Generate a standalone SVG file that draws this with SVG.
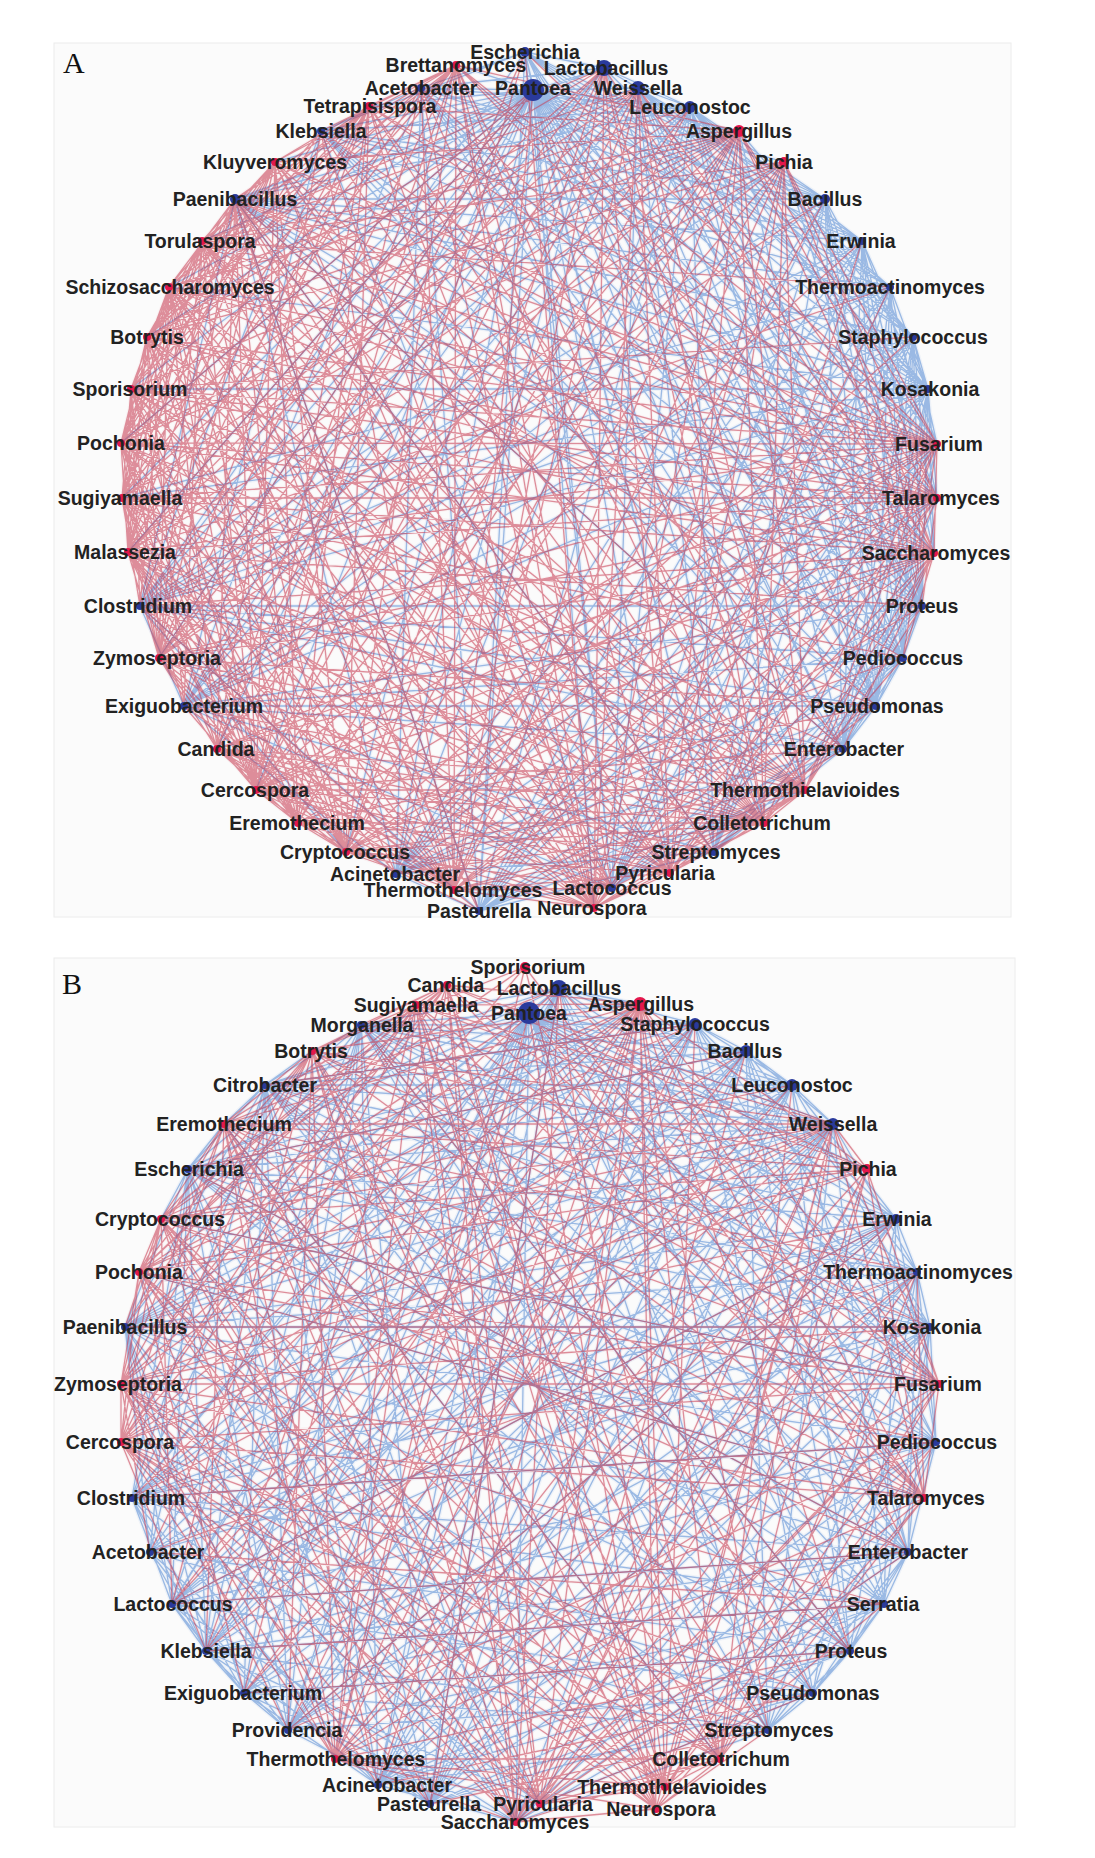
<svg xmlns="http://www.w3.org/2000/svg" xmlns:xlink="http://www.w3.org/1999/xlink" width="1095" height="1858" viewBox="0 0 1095 1858">
<style>
.bg{fill:#fbfbfb;stroke:#ececec;stroke-width:1}
.er{fill:none;stroke:#c63a50;stroke-opacity:.55;stroke-width:1.3}
.eb{fill:none;stroke:#467fd0;stroke-opacity:.5;stroke-width:1.3}
.erh{fill:none;stroke:#d86878;stroke-opacity:.06;stroke-width:3.5}
.ebh{fill:none;stroke:#6fa0e0;stroke-opacity:.09;stroke-width:4}
.lb{font-family:"Liberation Sans",Arial,sans-serif;font-weight:bold;font-size:19.5px;fill:#222222;text-anchor:middle}
.pl{font-family:"Liberation Serif","Times New Roman",serif;font-size:30px;fill:#111}
.nb{fill:#2a3a9c}
.nr{fill:#e3174c}
</style>
<defs>
<path id="ra" d="M533 90L159 658M533 90L128 552M533 90L121 443M533 90L454 890M525 52L217 749M525 52L298 823M525 52L594 908M525 52L937 444M604 68L256 790M604 68L346 852M604 68L122 498M604 68L147 337M604 68L670 873M604 68L454 890M604 68L764 823M604 68L934 553M638 88L805 790M638 88L764 823M638 88L670 873M638 88L594 908M638 88L454 890M638 88L346 852M638 88L256 790M638 88L159 658M638 88L128 552M638 88L121 443M638 88L147 337M638 88L202 241M638 88L937 498M638 88L934 553M690 107L298 823M690 107L217 749M690 107L122 498M690 107L169 287M739 131L937 498M739 131L934 553M739 131L805 790M739 131L670 873M739 131L594 908M739 131L454 890M739 131L298 823M739 131L217 749M739 131L159 658M739 131L128 552M739 131L122 498M739 131L131 389M739 131L169 287M739 131L275 162M739 131L369 106M739 131L456 65M784 162L937 444M784 162L764 823M784 162L346 852M784 162L256 790M784 162L121 443M784 162L147 337M784 162L202 241M825 199L454 890M825 199L159 658M862 241L670 873M862 241L256 790M890 287L594 908M890 287L128 552M890 287L202 241M913 337L346 852M913 337L131 389M928 389L256 790M937 444L934 553M937 444L903 658M937 444L805 790M937 444L764 823M937 444L594 908M937 444L454 890M937 444L298 823M937 444L217 749M937 444L159 658M937 444L128 552M937 444L121 443M937 444L147 337M937 444L202 241M937 444L275 162M937 498L922 606M937 498L805 790M937 498L670 873M937 498L454 890M937 498L346 852M937 498L256 790M937 498L159 658M937 498L122 498M937 498L131 389M937 498L169 287M937 498L369 106M937 498L456 65M934 553L903 658M934 553L843 749M934 553L764 823M934 553L670 873M934 553L594 908M934 553L298 823M934 553L217 749M934 553L140 606M934 553L121 443M934 553L147 337M934 553L235 199M934 553L321 131M934 553L421 88M922 606L805 790M922 606L454 890M922 606L128 552M922 606L169 287M903 658L764 823M903 658L346 852M903 658L122 498M903 658L202 241M876 706L670 873M876 706L298 823M876 706L159 658M876 706L131 389M876 706L275 162M843 749L594 908M843 749L256 790M843 749L121 443M843 749L369 106M805 790L714 852M805 790L612 888M805 790L454 890M805 790L346 852M805 790L256 790M805 790L217 749M805 790L159 658M805 790L128 552M805 790L121 443M805 790L147 337M805 790L202 241M805 790L275 162M805 790L456 65M764 823L670 873M764 823L594 908M764 823L396 874M764 823L298 823M764 823L184 706M764 823L140 606M764 823L122 498M764 823L131 389M764 823L169 287M764 823L235 199M764 823L321 131M764 823L421 88M714 852L298 823M714 852L217 749M714 852L121 443M714 852L202 241M670 873L594 908M670 873L454 890M670 873L346 852M670 873L256 790M670 873L159 658M670 873L122 498M670 873L147 337M670 873L235 199M670 873L369 106M612 888L454 890M612 888L346 852M612 888L256 790M612 888L217 749M612 888L159 658M612 888L128 552M612 888L131 389M612 888L169 287M612 888L275 162M612 888L456 65M594 908L454 890M594 908L298 823M594 908L217 749M594 908L140 606M594 908L122 498M594 908L147 337M594 908L202 241M594 908L321 131M594 908L421 88M479 911L298 823M479 911L159 658M479 911L169 287M454 890L346 852M454 890L256 790M454 890L184 706M454 890L140 606M454 890L122 498M454 890L131 389M454 890L169 287M454 890L235 199M454 890L321 131M454 890L421 88M454 890L456 65M454 890L202 241M396 874L217 749M396 874L128 552M396 874L147 337M346 852L256 790M346 852L159 658M346 852L128 552M346 852L121 443M346 852L147 337M346 852L202 241M346 852L275 162M346 852L369 106M346 852L456 65M298 823L217 749M298 823L140 606M298 823L122 498M298 823L131 389M298 823L169 287M298 823L235 199M298 823L369 106M256 790L184 706M256 790L159 658M256 790L128 552M256 790L122 498M256 790L121 443M256 790L131 389M256 790L147 337M256 790L169 287M256 790L202 241M256 790L275 162M256 790L421 88M217 749L159 658M217 749L128 552M217 749L121 443M217 749L169 287M217 749L235 199M217 749L321 131M217 749L456 65M184 706L122 498M184 706L147 337M184 706L202 241M159 658L128 552M159 658L122 498M159 658L121 443M159 658L131 389M159 658L147 337M159 658L169 287M159 658L202 241M159 658L275 162M159 658L369 106M159 658L456 65M140 606L122 498M140 606L131 389M140 606L169 287M140 606L369 106M128 552L121 443M128 552L131 389M128 552L147 337M128 552L169 287M128 552L202 241M128 552L275 162M128 552L421 88M122 498L131 389M122 498L147 337M122 498L169 287M122 498L235 199M122 498L369 106M122 498L456 65M121 443L147 337M121 443L169 287M121 443L202 241M121 443L235 199M121 443L275 162M121 443L321 131M121 443L456 65M131 389L169 287M131 389L202 241M131 389L275 162M131 389L369 106M131 389L456 65M147 337L202 241M147 337L235 199M147 337L275 162M147 337L321 131M147 337L369 106M147 337L421 88M147 337L456 65M169 287L235 199M169 287L275 162M169 287L369 106M169 287L456 65M202 241L275 162M202 241L369 106M202 241L421 88M235 199L937 444M235 199L937 498M235 199L843 749M235 199L714 852M235 199L612 888M235 199L479 911M235 199L256 790M235 199L159 658M235 199L128 552M235 199L369 106M235 199L456 65M275 162L369 106M275 162L456 65M321 131L456 65M369 106L456 65M604 68L159 658M604 68L128 552M604 68L202 241M604 68L594 908M604 68L805 790M456 65L937 444M456 65L934 553M456 65L805 790M456 65L764 823M456 65L670 873M456 65L594 908M456 65L346 852M456 65L256 790M369 106L937 444M369 106L805 790M369 106L670 873M369 106L594 908M369 106L256 790M369 106L128 552M275 162L937 498M275 162L805 790M275 162L764 823M275 162L594 908M275 162L298 823M275 162L122 498M202 241L937 444M202 241L934 553M202 241L764 823M202 241L670 873M202 241L454 890M202 241L346 852M202 241L122 498M169 287L937 444M169 287L937 498M169 287L805 790M169 287L670 873M169 287L594 908M169 287L346 852M147 337L937 444M147 337L937 498M147 337L934 553M147 337L764 823M147 337L670 873M147 337L346 852M131 389L937 444M131 389L934 553M131 389L805 790M131 389L764 823M131 389L594 908M131 389L454 890M131 389L346 852M121 443L937 444M121 443L937 498M121 443L934 553M121 443L805 790M121 443L670 873M121 443L454 890M121 443L298 823M122 498L937 444M122 498L934 553M122 498L805 790M122 498L670 873M122 498L594 908M122 498L454 890M122 498L346 852M128 552L937 444M128 552L937 498M128 552L764 823M128 552L670 873M128 552L594 908M128 552L454 890M128 552L298 823M159 658L937 444M159 658L937 498M159 658L934 553M159 658L805 790M159 658L764 823M159 658L454 890M159 658L298 823M217 749L937 444M217 749L937 498M217 749L764 823M217 749L670 873M217 749L454 890M217 749L346 852M217 749L298 823M256 790L937 444M256 790L937 498M256 790L934 553M256 790L764 823M256 790L670 873M256 790L594 908M256 790L454 890M256 790L346 852M256 790L298 823M346 852L937 444M346 852L934 553M346 852L764 823M346 852L670 873M346 852L594 908M346 852L298 823M454 890L937 444M454 890L937 498M454 890L934 553M454 890L805 790M454 890L764 823M454 890L670 873M454 890L594 908M594 908L937 444M594 908L937 498M594 908L934 553M594 908L805 790M594 908L764 823M670 873L937 444M670 873L937 498M670 873L934 553M670 873L805 790M670 873L764 823M805 790L937 444M805 790L937 498M805 790L934 553M805 790L764 823M784 162L937 498M784 162L934 553M784 162L805 790M784 162L670 873M784 162L594 908M784 162L454 890M784 162L159 658M784 162L128 552M739 131L937 444M739 131L764 823M739 131L346 852M739 131L256 790M739 131L121 443M739 131L147 337M739 131L202 241"/>
<path id="ba" d="M533 90L825 199M533 90L862 241M533 90L890 287M533 90L913 337M533 90L928 389M533 90L937 444M533 90L937 498M533 90L934 553M533 90L922 606M533 90L903 658M533 90L876 706M533 90L843 749M533 90L714 852M533 90L612 888M533 90L479 911M533 90L396 874M533 90L184 706M533 90L140 606M533 90L122 498M533 90L131 389M533 90L169 287M533 90L235 199M533 90L321 131M533 90L421 88M533 90L525 52M533 90L638 88M533 90L690 107M533 90L805 790M533 90L256 790M533 90L346 852M604 68L928 389M604 68L922 606M604 68L876 706M604 68L140 606M604 68L235 199M604 68L421 88M604 68L184 706M604 68L396 874M525 52L928 389M525 52L903 658M525 52L913 337M525 52L479 911M525 52L321 131M638 88L890 287M638 88L928 389M638 88L903 658M690 107L890 287M690 107L913 337M690 107L928 389M690 107L937 444M690 107L922 606M690 107L876 706M690 107L184 706M690 107L140 606M690 107L235 199M739 131L913 337M739 131L876 706M784 162L922 606M784 162L140 606M825 199L928 389M825 199L937 498M825 199L922 606M825 199L903 658M825 199L843 749M825 199L612 888M825 199L479 911M825 199L184 706M825 199L321 131M825 199L421 88M862 241L928 389M862 241L937 444M862 241L934 553M862 241L876 706M862 241L714 852M862 241L396 874M862 241L140 606M862 241L235 199M890 287L937 498M890 287L922 606M890 287L843 749M890 287L479 911M890 287L122 498M890 287L321 131M913 337L937 444M913 337L934 553M913 337L903 658M913 337L876 706M913 337L184 706M913 337L235 199M928 389L937 498M928 389L934 553M928 389L922 606M928 389L903 658M928 389L876 706M928 389L843 749M928 389L714 852M928 389L612 888M928 389L396 874M928 389L140 606M928 389L122 498M928 389L131 389M928 389L169 287M928 389L235 199M937 444L876 706M937 444L479 911M937 498L843 749M937 498L396 874M922 606L876 706M922 606L714 852M922 606L612 888M922 606L184 706M922 606L235 199M903 658L843 749M903 658L479 911M903 658L396 874M903 658L140 606M903 658L321 131M876 706L714 852M876 706L612 888M876 706L184 706M876 706L421 88M843 749L612 888M843 749L396 874M843 749L140 606M843 749L235 199M805 790L479 911M714 852L479 911M714 852L396 874M714 852L184 706M714 852L235 199M612 888L184 706M612 888L321 131M479 911L396 874M479 911L140 606M479 911L235 199M479 911L421 88M396 874L184 706M396 874L235 199M396 874L421 88M346 852L140 606M184 706L140 606M184 706L321 131M184 706L421 88M140 606L235 199M140 606L321 131M321 131L421 88M525 52L604 68M604 68L638 88M638 88L690 107M690 107L825 199M604 68L825 199M525 52L421 88M604 68L690 107M533 90L604 68M533 90L739 131M533 90L784 162M533 90L217 749M533 90L159 658M533 90L128 552M533 90L121 443M533 90L147 337M533 90L202 241M533 90L275 162M533 90L369 106M533 90L456 65M533 90L594 908M533 90L670 873M533 90L764 823M928 389L825 199M928 389L862 241M928 389L890 287M928 389L913 337M928 389L479 911M928 389L184 706M928 389L321 131M928 389L421 88M913 337L922 606M913 337L843 749M913 337L714 852M913 337L612 888M913 337L479 911M913 337L396 874M913 337L140 606M890 287L903 658M890 287L876 706M890 287L714 852M890 287L612 888M890 287L396 874M890 287L184 706M890 287L140 606M890 287L235 199M862 241L922 606M862 241L903 658M862 241L843 749M862 241L612 888M862 241L479 911M862 241L184 706M862 241L321 131M862 241L421 88M825 199L876 706M825 199L714 852M825 199L396 874M825 199L140 606M825 199L235 199M922 606L903 658M922 606L843 749M922 606L479 911M922 606L396 874M922 606L140 606M922 606L321 131M922 606L421 88M903 658L876 706M903 658L714 852M903 658L612 888M903 658L184 706M903 658L235 199M903 658L421 88M876 706L843 749M876 706L479 911M876 706L396 874M876 706L140 606M876 706L235 199M876 706L321 131M843 749L714 852M843 749L479 911M843 749L184 706M843 749L321 131M843 749L421 88M690 107L825 199M690 107L862 241M690 107L903 658M690 107L843 749M690 107L714 852M690 107L612 888M690 107L479 911M690 107L396 874M690 107L321 131M690 107L421 88M638 88L825 199M638 88L862 241M638 88L913 337M638 88L922 606M638 88L876 706M638 88L714 852M638 88L612 888M638 88L184 706M638 88L235 199M525 52L825 199M525 52L862 241M525 52L890 287M525 52L922 606M525 52L876 706M525 52L843 749M525 52L714 852M525 52L612 888M525 52L140 606"/>
<path id="rb" d="M640 1004L939 1384M640 1004L924 1498M640 1004L720 1759M640 1004L665 1787M640 1004L656 1809M640 1004L540 1804M640 1004L516 1822M640 1004L335 1759M640 1004L206 1651M640 1004L121 1442M640 1004L121 1384M640 1004L139 1272M640 1004L161 1219M640 1004L224 1124M640 1004L312 1051M640 1004L416 1005M640 1004L447 985M640 1004L850 1651M640 1004L288 1730M525 967L924 1498M525 967L720 1759M525 967L335 1759M525 967L121 1442M525 967L161 1219M525 967L312 1051M559 988L939 1384M559 988L665 1787M559 988L516 1822M559 988L121 1384M559 988L224 1124M529 1013L656 1809M529 1013L335 1759M529 1013L139 1272M529 1013L924 1498M695 1024L665 1787M695 1024L335 1759M695 1024L139 1272M746 1051L540 1804M746 1051L121 1442M746 1051L244 1693M792 1085L720 1759M792 1085L161 1219M833 1124L939 1384M833 1124L924 1498M833 1124L720 1759M833 1124L656 1809M833 1124L516 1822M833 1124L335 1759M833 1124L206 1651M833 1124L132 1498M833 1124L121 1384M833 1124L139 1272M833 1124L224 1124M833 1124L416 1005M867 1169L939 1384M867 1169L924 1498M867 1169L665 1787M867 1169L540 1804M867 1169L121 1442M867 1169L161 1219M867 1169L312 1051M867 1169L447 985M896 1219L516 1822M896 1219L121 1384M896 1219L172 1604M917 1272L924 1498M917 1272L720 1759M917 1272L335 1759M917 1272L224 1124M917 1272L540 1804M930 1327L656 1809M930 1327L121 1384M930 1327L312 1051M939 1384L924 1498M939 1384L720 1759M939 1384L665 1787M939 1384L540 1804M939 1384L335 1759M939 1384L121 1442M939 1384L121 1384M939 1384L139 1272M939 1384L161 1219M939 1384L224 1124M939 1384L312 1051M939 1384L416 1005M939 1384L447 985M939 1384L516 1822M936 1442L665 1787M936 1442L139 1272M936 1442L288 1730M924 1498L720 1759M924 1498L656 1809M924 1498L540 1804M924 1498L335 1759M924 1498L121 1442M924 1498L121 1384M924 1498L161 1219M924 1498L224 1124M924 1498L312 1051M924 1498L416 1005M908 1552L516 1822M908 1552L161 1219M884 1604L665 1787M884 1604L121 1384M884 1604L150 1552M850 1651L335 1759M850 1651L224 1124M850 1651L361 1025M813 1693L540 1804M813 1693L121 1442M813 1693L416 1005M768 1730L656 1809M768 1730L121 1384M768 1730L312 1051M720 1759L656 1809M720 1759L540 1804M720 1759L516 1822M720 1759L335 1759M720 1759L121 1442M720 1759L121 1384M720 1759L139 1272M720 1759L161 1219M720 1759L224 1124M720 1759L312 1051M720 1759L416 1005M720 1759L447 985M665 1787L540 1804M665 1787L335 1759M665 1787L121 1442M665 1787L139 1272M665 1787L224 1124M665 1787L312 1051M665 1787L447 985M656 1809L516 1822M656 1809L335 1759M656 1809L121 1384M656 1809L161 1219M656 1809L416 1005M540 1804L335 1759M540 1804L121 1442M540 1804L139 1272M540 1804L224 1124M540 1804L312 1051M540 1804L447 985M516 1822L335 1759M516 1822L121 1442M516 1822L121 1384M516 1822L139 1272M516 1822L161 1219M516 1822L312 1051M516 1822L416 1005M430 1804L121 1442M430 1804L161 1219M378 1785L121 1384M378 1785L224 1124M335 1759L121 1442M335 1759L121 1384M335 1759L139 1272M335 1759L161 1219M335 1759L224 1124M335 1759L312 1051M335 1759L416 1005M335 1759L447 985M335 1759L525 967M288 1730L121 1384M288 1730L312 1051M244 1693L139 1272M244 1693L416 1005M206 1651L121 1442M206 1651L224 1124M172 1604L161 1219M172 1604L312 1051M150 1552L121 1384M150 1552L416 1005M121 1442L121 1384M121 1442L139 1272M121 1442L161 1219M121 1442L224 1124M121 1442L312 1051M121 1442L416 1005M121 1442L447 985M121 1384L139 1272M121 1384L161 1219M121 1384L224 1124M121 1384L312 1051M121 1384L416 1005M121 1384L447 985M125 1327L161 1219M125 1327L312 1051M139 1272L161 1219M139 1272L224 1124M139 1272L312 1051M139 1272L416 1005M139 1272L447 985M161 1219L224 1124M161 1219L312 1051M161 1219L416 1005M161 1219L447 985M224 1124L312 1051M224 1124L416 1005M224 1124L447 985M312 1051L416 1005M312 1051L447 985M361 1025L447 985M188 1169L908 1552M447 985L939 1384M447 985L924 1498M447 985L720 1759M447 985L665 1787M447 985L656 1809M447 985L540 1804M447 985L516 1822M447 985L206 1651M416 1005L867 1169M416 1005L665 1787M416 1005L540 1804M416 1005L516 1822M312 1051L939 1384M312 1051L924 1498M312 1051L656 1809M312 1051L516 1822M224 1124L867 1169M224 1124L939 1384M224 1124L924 1498M224 1124L656 1809M224 1124L540 1804M224 1124L516 1822M161 1219L924 1498M161 1219L665 1787M161 1219L540 1804M139 1272L867 1169M139 1272L939 1384M139 1272L924 1498M139 1272L656 1809M139 1272L516 1822M121 1384L867 1169M121 1384L665 1787M121 1384L540 1804M121 1442L656 1809M640 1004L867 1169M640 1004L132 1498M640 1004L172 1604M640 1004L378 1785M640 1004L430 1804M640 1004L768 1730M640 1004L908 1552M833 1124L867 1169M833 1124L665 1787M833 1124L540 1804M833 1124L121 1442M833 1124L161 1219M833 1124L312 1051M833 1124L447 985M720 1759L867 1169M720 1759L665 1787M335 1759L867 1169M335 1759L939 1384M335 1759L924 1498M335 1759L665 1787M335 1759L540 1804M540 1804L939 1384M540 1804L924 1498M540 1804L867 1169M516 1822L867 1169M516 1822L640 1004M559 988L430 1804M695 1024L172 1604M792 1085L244 1693M896 1219L288 1730M917 1272L150 1552M930 1327L125 1327M936 1442L132 1498M908 1552L172 1604M884 1604L206 1651M850 1651L244 1693M813 1693L378 1785M768 1730L430 1804M746 1051L188 1169M695 1024L265 1085"/>
<path id="bb" d="M529 1013L559 988M529 1013L695 1024M529 1013L746 1051M529 1013L792 1085M529 1013L833 1124M529 1013L896 1219M529 1013L917 1272M529 1013L930 1327M529 1013L936 1442M529 1013L908 1552M529 1013L884 1604M529 1013L850 1651M529 1013L813 1693M529 1013L768 1730M529 1013L430 1804M529 1013L378 1785M529 1013L288 1730M529 1013L244 1693M529 1013L206 1651M529 1013L172 1604M529 1013L150 1552M529 1013L132 1498M529 1013L125 1327M529 1013L188 1169M529 1013L265 1085M529 1013L361 1025M529 1013L640 1004M529 1013L867 1169M529 1013L939 1384M529 1013L516 1822M559 988L695 1024M559 988L792 1085M559 988L896 1219M559 988L930 1327M559 988L908 1552M559 988L850 1651M559 988L768 1730M559 988L378 1785M559 988L244 1693M559 988L172 1604M559 988L132 1498M559 988L188 1169M559 988L265 1085M559 988L361 1025M695 1024L792 1085M695 1024L896 1219M695 1024L930 1327M695 1024L936 1442M695 1024L884 1604M695 1024L813 1693M695 1024L430 1804M695 1024L288 1730M695 1024L206 1651M695 1024L150 1552M695 1024L125 1327M695 1024L188 1169M695 1024L265 1085M746 1051L833 1124M746 1051L917 1272M746 1051L936 1442M746 1051L908 1552M746 1051L850 1651M746 1051L768 1730M746 1051L378 1785M746 1051L206 1651M746 1051L132 1498M746 1051L125 1327M746 1051L361 1025M792 1085L896 1219M792 1085L930 1327M792 1085L908 1552M792 1085L850 1651M792 1085L430 1804M792 1085L288 1730M792 1085L172 1604M792 1085L125 1327M792 1085L188 1169M833 1124L917 1272M833 1124L884 1604M833 1124L768 1730M833 1124L378 1785M833 1124L244 1693M833 1124L150 1552M896 1219L936 1442M896 1219L884 1604M896 1219L813 1693M896 1219L378 1785M896 1219L244 1693M896 1219L150 1552M896 1219L125 1327M896 1219L188 1169M896 1219L265 1085M917 1272L936 1442M917 1272L908 1552M917 1272L850 1651M917 1272L768 1730M917 1272L430 1804M917 1272L288 1730M917 1272L172 1604M917 1272L132 1498M917 1272L188 1169M917 1272L361 1025M930 1327L936 1442M930 1327L908 1552M930 1327L884 1604M930 1327L813 1693M930 1327L378 1785M930 1327L244 1693M930 1327L150 1552M930 1327L265 1085M930 1327L361 1025M936 1442L908 1552M936 1442L850 1651M936 1442L768 1730M936 1442L430 1804M936 1442L206 1651M936 1442L132 1498M936 1442L125 1327M936 1442L188 1169M908 1552L850 1651M908 1552L813 1693M908 1552L768 1730M908 1552L378 1785M908 1552L244 1693M908 1552L172 1604M908 1552L125 1327M908 1552L265 1085M908 1552L361 1025M884 1604L813 1693M884 1604L430 1804M884 1604L288 1730M884 1604L206 1651M884 1604L132 1498M884 1604L188 1169M850 1651L768 1730M850 1651L378 1785M850 1651L244 1693M850 1651L150 1552M850 1651L125 1327M850 1651L265 1085M813 1693L430 1804M813 1693L288 1730M813 1693L172 1604M813 1693L132 1498M813 1693L188 1169M813 1693L361 1025M768 1730L378 1785M768 1730L244 1693M768 1730L206 1651M768 1730L150 1552M768 1730L125 1327M768 1730L265 1085M516 1822L936 1442M516 1822L884 1604M516 1822L768 1730M516 1822L378 1785M516 1822L244 1693M516 1822L172 1604M516 1822L125 1327M516 1822L265 1085M516 1822L930 1327M516 1822L792 1085M540 1804L908 1552M540 1804L813 1693M540 1804L206 1651M540 1804L132 1498M540 1804L188 1169M430 1804L288 1730M430 1804L206 1651M430 1804L150 1552M430 1804L125 1327M430 1804L265 1085M430 1804L361 1025M378 1785L244 1693M378 1785L172 1604M378 1785L132 1498M378 1785L188 1169M378 1785L361 1025M288 1730L206 1651M288 1730L150 1552M288 1730L125 1327M288 1730L188 1169M288 1730L265 1085M244 1693L172 1604M244 1693L132 1498M244 1693L125 1327M244 1693L265 1085M244 1693L361 1025M206 1651L150 1552M206 1651L132 1498M206 1651L125 1327M206 1651L188 1169M206 1651L265 1085M206 1651L361 1025M206 1651L559 988M206 1651L695 1024M206 1651L792 1085M206 1651L896 1219M206 1651L908 1552M172 1604L132 1498M172 1604L125 1327M172 1604L188 1169M172 1604L361 1025M150 1552L125 1327M150 1552L188 1169M150 1552L265 1085M132 1498L188 1169M132 1498L265 1085M132 1498L361 1025M125 1327L188 1169M125 1327L265 1085M125 1327L361 1025M188 1169L265 1085M188 1169L361 1025M188 1169L746 1051M188 1169L833 1124M265 1085L361 1025M265 1085L833 1124M361 1025L896 1219M361 1025L936 1442M939 1384L161 1219M720 1759L224 1124M640 1004L125 1327M924 1498L139 1272M188 1169L695 1024M188 1169L792 1085M188 1169L896 1219M188 1169L930 1327M188 1169L936 1442M188 1169L908 1552M188 1169L850 1651M188 1169L813 1693M188 1169L430 1804M188 1169L378 1785M188 1169L288 1730M188 1169L206 1651M265 1085L559 988M265 1085L746 1051M265 1085L792 1085M265 1085L896 1219M265 1085L917 1272M265 1085L936 1442M265 1085L908 1552M265 1085L884 1604M265 1085L813 1693M265 1085L768 1730M265 1085L430 1804M265 1085L378 1785M361 1025L695 1024M361 1025L792 1085M361 1025L833 1124M361 1025L917 1272M361 1025L930 1327M361 1025L908 1552M361 1025L884 1604M361 1025L850 1651M361 1025L768 1730M361 1025L430 1804M361 1025L378 1785M361 1025L288 1730M125 1327L559 988M125 1327L695 1024M125 1327L746 1051M125 1327L792 1085M125 1327L833 1124M125 1327L917 1272M125 1327L930 1327M132 1498L559 988M132 1498L695 1024M132 1498L792 1085M132 1498L896 1219M132 1498L930 1327M132 1498L908 1552M172 1604L559 988M172 1604L746 1051M172 1604L833 1124M172 1604L896 1219M172 1604L917 1272M172 1604L936 1442M288 1730L559 988M288 1730L695 1024M288 1730L746 1051M288 1730L833 1124M288 1730L896 1219M288 1730L930 1327M378 1785L695 1024M378 1785L792 1085M378 1785L917 1272M378 1785L936 1442M378 1785L884 1604M430 1804L559 988M430 1804L746 1051M430 1804L833 1124M430 1804L896 1219M430 1804L930 1327M430 1804L884 1604M430 1804L850 1651M188 1169L224 1124M224 1124L265 1085M265 1085L312 1051M161 1219L188 1169M559 988L640 1004M695 1024L746 1051M746 1051L792 1085M792 1085L833 1124M896 1219L917 1272M917 1272L930 1327M908 1552L884 1604M884 1604L850 1651M850 1651L813 1693M813 1693L768 1730M172 1604L206 1651M206 1651L244 1693M244 1693L288 1730"/>
</defs>
<rect width="1095" height="1858" fill="#ffffff"/>
<rect class="bg" x="54" y="43" width="957" height="874"/>
<rect class="bg" x="54" y="958" width="961" height="869"/>
<text class="pl" x="63" y="73">A</text>
<text class="pl" x="62" y="994">B</text>
<g id="edges-a">
<use xlink:href="#ba" href="#ba" class="ebh"/>
<use xlink:href="#ra" href="#ra" class="erh"/>
<use xlink:href="#ba" href="#ba" class="eb"/>
<use xlink:href="#ra" href="#ra" class="er"/>
</g>
<g id="edges-b">
<use xlink:href="#bb" href="#bb" class="ebh"/>
<use xlink:href="#rb" href="#rb" class="erh"/>
<use xlink:href="#bb" href="#bb" class="eb"/>
<use xlink:href="#rb" href="#rb" class="er"/>
</g>
<g id="nodes-a">
<g id="a-escherichia"><circle class="nb" cx="525" cy="52" r="5"/><text class="lb" x="525" y="59">Escherichia</text></g>
<g id="a-lactobacillus"><circle class="nb" cx="604" cy="68" r="8"/><text class="lb" x="606" y="75">Lactobacillus</text></g>
<g id="a-weissella"><circle class="nb" cx="638" cy="88" r="7"/><text class="lb" x="638" y="95">Weissella</text></g>
<g id="a-leuconostoc"><circle class="nb" cx="690" cy="107" r="6"/><text class="lb" x="690" y="114">Leuconostoc</text></g>
<g id="a-aspergillus"><circle class="nr" cx="739" cy="131" r="6"/><text class="lb" x="739" y="138">Aspergillus</text></g>
<g id="a-pichia"><circle class="nr" cx="784" cy="162" r="5"/><text class="lb" x="784" y="169">Pichia</text></g>
<g id="a-bacillus"><circle class="nb" cx="825" cy="199" r="5"/><text class="lb" x="825" y="206">Bacillus</text></g>
<g id="a-erwinia"><circle class="nb" cx="862" cy="241" r="4"/><text class="lb" x="861" y="248">Erwinia</text></g>
<g id="a-thermoactinomyces"><circle class="nb" cx="890" cy="287" r="4"/><text class="lb" x="890" y="294">Thermoactinomyces</text></g>
<g id="a-staphylococcus"><circle class="nb" cx="913" cy="337" r="4"/><text class="lb" x="913" y="344">Staphylococcus</text></g>
<g id="a-kosakonia"><circle class="nb" cx="928" cy="389" r="4"/><text class="lb" x="930" y="396">Kosakonia</text></g>
<g id="a-fusarium"><circle class="nr" cx="937" cy="444" r="4"/><text class="lb" x="939" y="451">Fusarium</text></g>
<g id="a-talaromyces"><circle class="nr" cx="937" cy="498" r="4"/><text class="lb" x="941" y="505">Talaromyces</text></g>
<g id="a-saccharomyces"><circle class="nr" cx="934" cy="553" r="4"/><text class="lb" x="936" y="560">Saccharomyces</text></g>
<g id="a-proteus"><circle class="nb" cx="922" cy="606" r="4"/><text class="lb" x="922" y="613">Proteus</text></g>
<g id="a-pediococcus"><circle class="nb" cx="903" cy="658" r="4"/><text class="lb" x="903" y="665">Pediococcus</text></g>
<g id="a-pseudomonas"><circle class="nb" cx="876" cy="706" r="4"/><text class="lb" x="877" y="713">Pseudomonas</text></g>
<g id="a-enterobacter"><circle class="nb" cx="843" cy="749" r="4"/><text class="lb" x="844" y="756">Enterobacter</text></g>
<g id="a-thermothielavioides"><circle class="nr" cx="805" cy="790" r="4"/><text class="lb" x="805" y="797">Thermothielavioides</text></g>
<g id="a-colletotrichum"><circle class="nr" cx="764" cy="823" r="4"/><text class="lb" x="762" y="830">Colletotrichum</text></g>
<g id="a-streptomyces"><circle class="nb" cx="714" cy="852" r="4"/><text class="lb" x="716" y="859">Streptomyces</text></g>
<g id="a-pyricularia"><circle class="nr" cx="670" cy="873" r="4"/><text class="lb" x="665" y="880">Pyricularia</text></g>
<g id="a-lactococcus"><circle class="nb" cx="612" cy="888" r="4"/><text class="lb" x="612" y="895">Lactococcus</text></g>
<g id="a-neurospora"><circle class="nr" cx="594" cy="908" r="4"/><text class="lb" x="592" y="915">Neurospora</text></g>
<g id="a-pasteurella"><circle class="nb" cx="479" cy="911" r="4"/><text class="lb" x="479" y="918">Pasteurella</text></g>
<g id="a-thermothelomyces"><circle class="nr" cx="454" cy="890" r="4"/><text class="lb" x="453" y="897">Thermothelomyces</text></g>
<g id="a-acinetobacter"><circle class="nb" cx="396" cy="874" r="4"/><text class="lb" x="395" y="881">Acinetobacter</text></g>
<g id="a-cryptococcus"><circle class="nr" cx="346" cy="852" r="4"/><text class="lb" x="345" y="859">Cryptococcus</text></g>
<g id="a-eremothecium"><circle class="nr" cx="298" cy="823" r="4"/><text class="lb" x="297" y="830">Eremothecium</text></g>
<g id="a-cercospora"><circle class="nr" cx="256" cy="790" r="4"/><text class="lb" x="255" y="797">Cercospora</text></g>
<g id="a-candida"><circle class="nr" cx="217" cy="749" r="4"/><text class="lb" x="216" y="756">Candida</text></g>
<g id="a-exiguobacterium"><circle class="nb" cx="184" cy="706" r="4"/><text class="lb" x="184" y="713">Exiguobacterium</text></g>
<g id="a-zymoseptoria"><circle class="nr" cx="159" cy="658" r="4"/><text class="lb" x="157" y="665">Zymoseptoria</text></g>
<g id="a-clostridium"><circle class="nb" cx="140" cy="606" r="4"/><text class="lb" x="138" y="613">Clostridium</text></g>
<g id="a-malassezia"><circle class="nr" cx="128" cy="552" r="4"/><text class="lb" x="125" y="559">Malassezia</text></g>
<g id="a-sugiyamaella"><circle class="nr" cx="122" cy="498" r="4"/><text class="lb" x="120" y="505">Sugiyamaella</text></g>
<g id="a-pochonia"><circle class="nr" cx="121" cy="443" r="4"/><text class="lb" x="121" y="450">Pochonia</text></g>
<g id="a-sporisorium"><circle class="nr" cx="131" cy="389" r="4"/><text class="lb" x="130" y="396">Sporisorium</text></g>
<g id="a-botrytis"><circle class="nr" cx="147" cy="337" r="4"/><text class="lb" x="147" y="344">Botrytis</text></g>
<g id="a-schizosaccharomyces"><circle class="nr" cx="169" cy="287" r="4"/><text class="lb" x="170" y="294">Schizosaccharomyces</text></g>
<g id="a-torulaspora"><circle class="nr" cx="202" cy="241" r="4"/><text class="lb" x="200" y="248">Torulaspora</text></g>
<g id="a-paenibacillus"><circle class="nb" cx="235" cy="199" r="5"/><text class="lb" x="235" y="206">Paenibacillus</text></g>
<g id="a-kluyveromyces"><circle class="nr" cx="275" cy="162" r="4"/><text class="lb" x="275" y="169">Kluyveromyces</text></g>
<g id="a-klebsiella"><circle class="nb" cx="321" cy="131" r="4"/><text class="lb" x="321" y="138">Klebsiella</text></g>
<g id="a-tetrapisispora"><circle class="nr" cx="369" cy="106" r="4"/><text class="lb" x="370" y="113">Tetrapisispora</text></g>
<g id="a-acetobacter"><circle class="nb" cx="421" cy="88" r="4"/><text class="lb" x="421" y="95">Acetobacter</text></g>
<g id="a-brettanomyces"><circle class="nr" cx="456" cy="65" r="4"/><text class="lb" x="456" y="72">Brettanomyces</text></g>
<g id="a-pantoea"><circle class="nb" cx="533" cy="90" r="11"/><text class="lb" x="533" y="95">Pantoea</text></g>
</g>
<g id="nodes-b">
<g id="b-sporisorium"><circle class="nr" cx="525" cy="967" r="5"/><text class="lb" x="528" y="974">Sporisorium</text></g>
<g id="b-lactobacillus"><circle class="nb" cx="559" cy="988" r="8"/><text class="lb" x="559" y="995">Lactobacillus</text></g>
<g id="b-aspergillus"><circle class="nr" cx="640" cy="1004" r="7"/><text class="lb" x="641" y="1011">Aspergillus</text></g>
<g id="b-staphylococcus"><circle class="nb" cx="695" cy="1024" r="6"/><text class="lb" x="695" y="1031">Staphylococcus</text></g>
<g id="b-bacillus"><circle class="nb" cx="746" cy="1051" r="6"/><text class="lb" x="745" y="1058">Bacillus</text></g>
<g id="b-leuconostoc"><circle class="nb" cx="792" cy="1085" r="6"/><text class="lb" x="792" y="1092">Leuconostoc</text></g>
<g id="b-weissella"><circle class="nb" cx="833" cy="1124" r="6"/><text class="lb" x="833" y="1131">Weissella</text></g>
<g id="b-pichia"><circle class="nr" cx="867" cy="1169" r="5"/><text class="lb" x="868" y="1176">Pichia</text></g>
<g id="b-erwinia"><circle class="nb" cx="896" cy="1219" r="5"/><text class="lb" x="897" y="1226">Erwinia</text></g>
<g id="b-thermoactinomyces"><circle class="nb" cx="917" cy="1272" r="4"/><text class="lb" x="918" y="1279">Thermoactinomyces</text></g>
<g id="b-kosakonia"><circle class="nb" cx="930" cy="1327" r="4"/><text class="lb" x="932" y="1334">Kosakonia</text></g>
<g id="b-fusarium"><circle class="nr" cx="939" cy="1384" r="4"/><text class="lb" x="938" y="1391">Fusarium</text></g>
<g id="b-pediococcus"><circle class="nb" cx="936" cy="1442" r="4"/><text class="lb" x="937" y="1449">Pediococcus</text></g>
<g id="b-talaromyces"><circle class="nr" cx="924" cy="1498" r="4"/><text class="lb" x="926" y="1505">Talaromyces</text></g>
<g id="b-enterobacter"><circle class="nb" cx="908" cy="1552" r="4"/><text class="lb" x="908" y="1559">Enterobacter</text></g>
<g id="b-serratia"><circle class="nb" cx="884" cy="1604" r="4"/><text class="lb" x="883" y="1611">Serratia</text></g>
<g id="b-proteus"><circle class="nb" cx="850" cy="1651" r="4"/><text class="lb" x="851" y="1658">Proteus</text></g>
<g id="b-pseudomonas"><circle class="nb" cx="813" cy="1693" r="4"/><text class="lb" x="813" y="1700">Pseudomonas</text></g>
<g id="b-streptomyces"><circle class="nb" cx="768" cy="1730" r="4"/><text class="lb" x="769" y="1737">Streptomyces</text></g>
<g id="b-colletotrichum"><circle class="nr" cx="720" cy="1759" r="4"/><text class="lb" x="721" y="1766">Colletotrichum</text></g>
<g id="b-thermothielavioides"><circle class="nr" cx="665" cy="1787" r="4"/><text class="lb" x="672" y="1794">Thermothielavioides</text></g>
<g id="b-neurospora"><circle class="nr" cx="656" cy="1809" r="4"/><text class="lb" x="661" y="1816">Neurospora</text></g>
<g id="b-pyricularia"><circle class="nr" cx="540" cy="1804" r="4"/><text class="lb" x="543" y="1811">Pyricularia</text></g>
<g id="b-saccharomyces"><circle class="nr" cx="516" cy="1822" r="4"/><text class="lb" x="515" y="1829">Saccharomyces</text></g>
<g id="b-pasteurella"><circle class="nb" cx="430" cy="1804" r="4"/><text class="lb" x="429" y="1811">Pasteurella</text></g>
<g id="b-acinetobacter"><circle class="nb" cx="378" cy="1785" r="4"/><text class="lb" x="387" y="1792">Acinetobacter</text></g>
<g id="b-thermothelomyces"><circle class="nr" cx="335" cy="1759" r="4"/><text class="lb" x="336" y="1766">Thermothelomyces</text></g>
<g id="b-providencia"><circle class="nb" cx="288" cy="1730" r="4"/><text class="lb" x="287" y="1737">Providencia</text></g>
<g id="b-exiguobacterium"><circle class="nb" cx="244" cy="1693" r="4"/><text class="lb" x="243" y="1700">Exiguobacterium</text></g>
<g id="b-klebsiella"><circle class="nb" cx="206" cy="1651" r="4"/><text class="lb" x="206" y="1658">Klebsiella</text></g>
<g id="b-lactococcus"><circle class="nb" cx="172" cy="1604" r="4"/><text class="lb" x="173" y="1611">Lactococcus</text></g>
<g id="b-acetobacter"><circle class="nb" cx="150" cy="1552" r="4"/><text class="lb" x="148" y="1559">Acetobacter</text></g>
<g id="b-clostridium"><circle class="nb" cx="132" cy="1498" r="4"/><text class="lb" x="131" y="1505">Clostridium</text></g>
<g id="b-cercospora"><circle class="nr" cx="121" cy="1442" r="4"/><text class="lb" x="120" y="1449">Cercospora</text></g>
<g id="b-zymoseptoria"><circle class="nr" cx="121" cy="1384" r="4"/><text class="lb" x="118" y="1391">Zymoseptoria</text></g>
<g id="b-paenibacillus"><circle class="nb" cx="125" cy="1327" r="4"/><text class="lb" x="125" y="1334">Paenibacillus</text></g>
<g id="b-pochonia"><circle class="nr" cx="139" cy="1272" r="4"/><text class="lb" x="139" y="1279">Pochonia</text></g>
<g id="b-cryptococcus"><circle class="nr" cx="161" cy="1219" r="4"/><text class="lb" x="160" y="1226">Cryptococcus</text></g>
<g id="b-escherichia"><circle class="nb" cx="188" cy="1169" r="4"/><text class="lb" x="189" y="1176">Escherichia</text></g>
<g id="b-eremothecium"><circle class="nr" cx="224" cy="1124" r="4"/><text class="lb" x="224" y="1131">Eremothecium</text></g>
<g id="b-citrobacter"><circle class="nb" cx="265" cy="1085" r="4"/><text class="lb" x="265" y="1092">Citrobacter</text></g>
<g id="b-botrytis"><circle class="nr" cx="312" cy="1051" r="4"/><text class="lb" x="311" y="1058">Botrytis</text></g>
<g id="b-morganella"><circle class="nb" cx="361" cy="1025" r="4"/><text class="lb" x="362" y="1032">Morganella</text></g>
<g id="b-sugiyamaella"><circle class="nr" cx="416" cy="1005" r="4"/><text class="lb" x="416" y="1012">Sugiyamaella</text></g>
<g id="b-candida"><circle class="nr" cx="447" cy="985" r="4"/><text class="lb" x="446" y="992">Candida</text></g>
<g id="b-pantoea"><circle class="nb" cx="529" cy="1013" r="11"/><text class="lb" x="529" y="1020">Pantoea</text></g>
</g>
</svg>
